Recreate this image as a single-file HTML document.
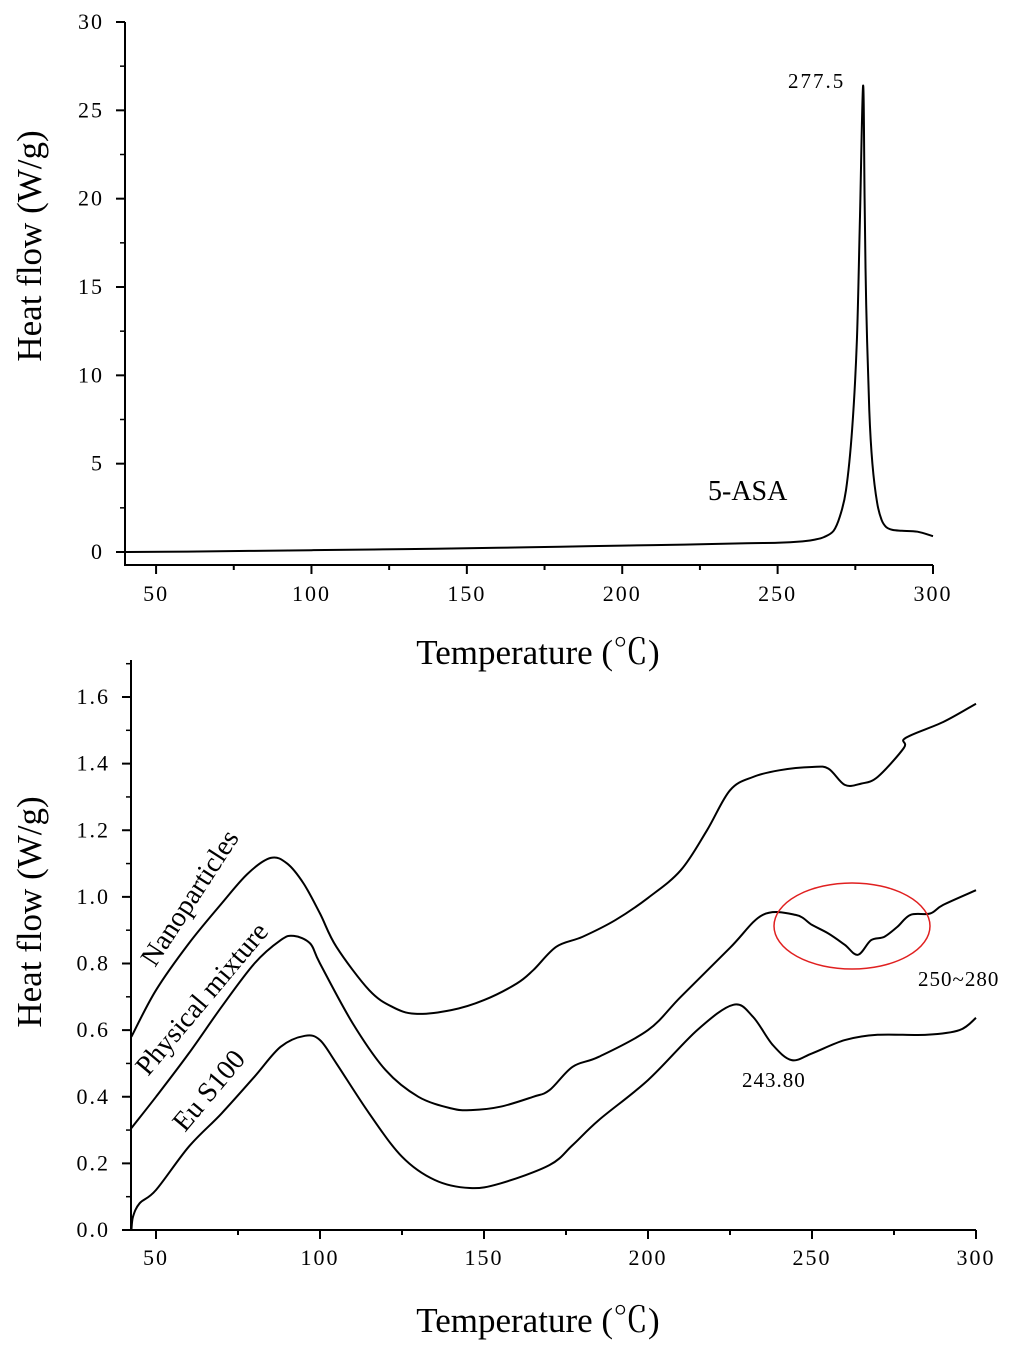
<!DOCTYPE html>
<html><head><meta charset="utf-8"><style>
body{margin:0;background:#fff}
svg{display:block;font-family:"Liberation Serif","Noto Serif CJK SC",serif}
</style></head><body>
<svg id="c" width="1024" height="1353" viewBox="0 0 1024 1353"></svg>
<script>
const topTemps=[40,60,80,100,120,140,160,180,200,220,240,250,258,262,265,268,270,272,274,275.5,276.5,277.5,278,278.5,279.5,280.5,282,283.5,285,287,290,295,300];
const topFlow=[0,0.02,0.06,0.1,0.14,0.18,0.24,0.3,0.36,0.42,0.5,0.52,0.6,0.7,0.85,1.2,2,3.5,7,12,19,26.4,20,14,8,5,2.8,1.8,1.4,1.25,1.2,1.15,0.9];
const topXTicks=[50,100,150,200,250,300];
const topYTicks=[0,5,10,15,20,25,30];
const nanoT=[42.5,50,60,70,78,85,90,95,100,105,115,122,129,140,150,160,165,172,180,190,200,210,218,225,232,240,250,255,260,265,270,278,278.5,290,300];
const nanoV=[0.58,0.72,0.86,0.98,1.07,1.117,1.1,1.04,0.95,0.85,0.72,0.67,0.649,0.66,0.69,0.74,0.78,0.85,0.88,0.93,0.997,1.08,1.2,1.32,1.36,1.38,1.39,1.385,1.336,1.34,1.36,1.447,1.477,1.525,1.58];
const physT=[42.5,50,60,70,80,88,92,97,100,110,120,130,140,146,155,165,170,177,185,200,210,225,235,245,250,255,260,264,268,272,276,280,286,290,300];
const physV=[0.306,0.4,0.53,0.67,0.8,0.87,0.883,0.86,0.8,0.62,0.48,0.4,0.365,0.36,0.37,0.4,0.42,0.49,0.52,0.6,0.7,0.847,0.946,0.946,0.916,0.89,0.856,0.826,0.87,0.88,0.91,0.946,0.95,0.976,1.02];
const euT=[42.5,43,45,50,60,70,80,88,95.4,100,105,115,125,135,145.7,155,170,177,185,200,215,226,232,238,243.8,250,260,270,285,295,300];
const euV=[0,0.04,0.08,0.12,0.25,0.35,0.46,0.55,0.583,0.57,0.5,0.35,0.22,0.15,0.126,0.14,0.195,0.255,0.33,0.45,0.6,0.676,0.64,0.556,0.51,0.53,0.57,0.586,0.586,0.6,0.637];
const botXTicks=[50,100,150,200,250,300];
const botYTicks=[0,0.2,0.4,0.6,0.8,1.0,1.2,1.4,1.6];

const NS="http://www.w3.org/2000/svg",svg=document.getElementById('c');
function mk(tag,attrs,parent){const e=document.createElementNS(NS,tag);for(const k in attrs)e.setAttribute(k,attrs[k]);(parent||svg).appendChild(e);return e;}
const tx1=t=>125+(t-40)/260*808, ty1=v=>552-v/30*530;
const tx2=t=>156+(t-50)/250*820, ty2=v=>1230-v/1.6*533;
function smooth(P){let d='M'+P[0][0].toFixed(1)+' '+P[0][1].toFixed(1);
 for(let i=0;i<P.length-1;i++){const p0=P[Math.max(0,i-1)],p1=P[i],p2=P[i+1],p3=P[Math.min(P.length-1,i+2)];
  const c1=[p1[0]+(p2[0]-p0[0])/6,p1[1]+(p2[1]-p0[1])/6],c2=[p2[0]-(p3[0]-p1[0])/6,p2[1]-(p3[1]-p1[1])/6];
  d+='C'+c1.map(v=>v.toFixed(1)).join(' ')+' '+c2.map(v=>v.toFixed(1)).join(' ')+' '+p2[0].toFixed(1)+' '+p2[1].toFixed(1);}
 return d;}

let g=mk('g',{});


let a=mk('path',{d:'M125 22V565H933',stroke:'#000','stroke-width':2,fill:'none'},g);


topXTicks.forEach(t=>{mk('line',{x1:tx1(t),x2:tx1(t),y1:565,y2:574,stroke:'#000','stroke-width':2},g);
 if(t-25>40)mk('line',{x1:tx1(t-25),x2:tx1(t-25),y1:565,y2:570,stroke:'#000','stroke-width':2},g);
 const l=mk('text',{x:tx1(t),y:601,'font-size':22,'text-anchor':'middle','letter-spacing':2},g);l.textContent=t;
 
 });
topYTicks.forEach(v=>{mk('line',{x1:116,x2:125,y1:ty1(v),y2:ty1(v),stroke:'#000','stroke-width':2},g);
 if(v<30)mk('line',{x1:120,x2:125,y1:ty1(v+2.5),y2:ty1(v+2.5),stroke:'#000','stroke-width':1.5},g);
 const l=mk('text',{x:104,y:ty1(v)+7,'font-size':22,'text-anchor':'end','letter-spacing':2},g);l.textContent=v;
 
 });
let p=mk('path',{d:smooth(topTemps.map((t,i)=>[tx1(t),ty1(topFlow[i])])),stroke:'#000','stroke-width':2,fill:'none'},g);


let t;
t=mk('text',{x:788,y:88,'font-size':21,'letter-spacing':2},g);t.textContent='277.5';


t=mk('text',{x:708,y:500,'font-size':28},g);t.textContent='5-ASA';


t=mk('text',{x:538,y:664,'font-size':35,'text-anchor':'middle'},g);t.textContent='Temperature (℃)';


t=mk('text',{x:0,y:0,'font-size':35,'text-anchor':'middle',transform:'translate(41 246) rotate(-90)'},g);t.textContent='Heat flow (W/g)';



g=mk('g',{});


a=mk('path',{d:'M131 660V1230H976',stroke:'#000','stroke-width':2,fill:'none'},g);


botXTicks.forEach(t=>{mk('line',{x1:tx2(t),x2:tx2(t),y1:1230,y2:1239,stroke:'#000','stroke-width':2},g);
 if(t+25<300)mk('line',{x1:tx2(t+25),x2:tx2(t+25),y1:1230,y2:1235,stroke:'#000','stroke-width':2},g);
 const l=mk('text',{x:tx2(t),y:1265,'font-size':22,'text-anchor':'middle','letter-spacing':2},g);l.textContent=t;
 
 });
botYTicks.forEach(v=>{mk('line',{x1:122,x2:131,y1:ty2(v),y2:ty2(v),stroke:'#000','stroke-width':2},g);
 mk('line',{x1:126,x2:131,y1:ty2(v+0.1),y2:ty2(v+0.1),stroke:'#000','stroke-width':1.5},g);
 const l=mk('text',{x:110,y:ty2(v)+7,'font-size':22,'text-anchor':'end','letter-spacing':2},g);l.textContent=v.toFixed(1);
 
 });
function series(T,V,name){const s=mk('path',{d:smooth(T.map((t,i)=>[tx2(t),ty2(V[i])])),stroke:'#000','stroke-width':2,fill:'none','stroke-linejoin':'round'},g);
 
 }
series(nanoT,nanoV,'nanoparticles-curve');
series(physT,physV,'physical-mixture-curve');
series(euT,euV,'eu-s100-curve');
const e=mk('ellipse',{cx:852,cy:926,rx:78,ry:43,stroke:'#e02020','stroke-width':1.5,fill:'none'},g);


[['250~280',918,986,21,0,'range-label'],['243.80',742,1087,21,0,'min-label'],['Nanoparticles',155,968,28,-57,'nanoparticles-label'],['Physical mixture',148,1077,28,-50,'physical-mixture-label'],['Eu S100',185,1133,28,-50,'eu-s100-label']].forEach(r=>{
 const l=mk('text',{x:r[1],y:r[2],'font-size':r[3],'letter-spacing':r[4]?0:1,transform:r[4]?`rotate(${r[4]} ${r[1]} ${r[2]})`:''},g);l.textContent=r[0];
 
 });
t=mk('text',{x:538,y:1332,'font-size':35,'text-anchor':'middle'},g);t.textContent='Temperature (℃)';


t=mk('text',{x:0,y:0,'font-size':35,'text-anchor':'middle',transform:'translate(41 912) rotate(-90)'},g);t.textContent='Heat flow (W/g)';


</script>
</body></html>
